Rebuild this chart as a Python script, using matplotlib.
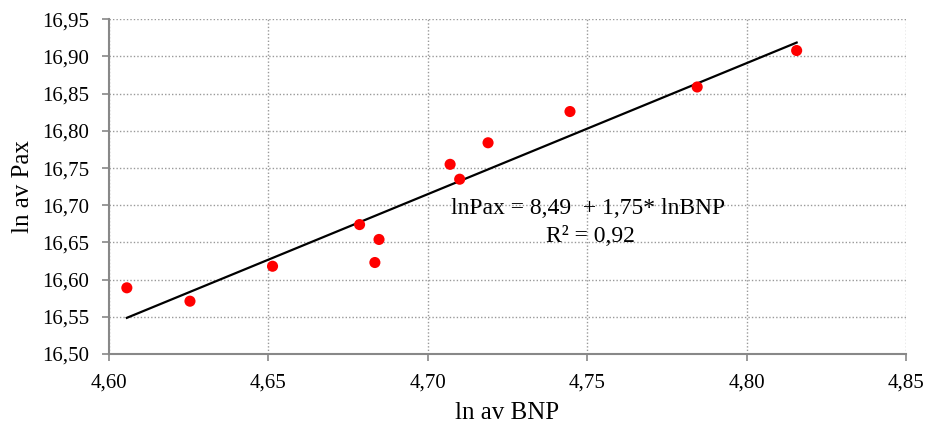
import numpy as np
import matplotlib
matplotlib.use("Agg")
import matplotlib.pyplot as plt
from matplotlib.ticker import FuncFormatter, MultipleLocator

ln_bnp = [4.6056, 4.6254, 4.6513, 4.6786, 4.6847, 4.6834, 4.7070, 4.7100, 4.7189, 4.7446, 4.7845, 4.8157]
ln_pax = [16.589, 16.571, 16.618, 16.674, 16.654, 16.623, 16.755, 16.735, 16.784, 16.826, 16.859, 16.908]
eq_text = "lnPax = 8,49  + 1,75* lnBNP"
r2_text = "R² = 0,92"

plt.rcParams['font.family'] = ['Liberation Serif', 'DejaVu Serif']

fig = plt.figure(figsize=(9.26, 4.26), dpi=100)
ax = fig.add_axes([0.1177, 0.169, 0.8607, 0.7857])

x = np.array(ln_bnp)
y = np.array(ln_pax)
b1, b0 = np.polyfit(x, y, 1)
xl = np.array([x.min(), x.max()])
ax.plot(xl, b0 + b1 * xl, color='black', lw=1.6, zorder=3)
ax.scatter(x, y, s=64, color='#ff0000', edgecolors='none', zorder=4)

ax.set_xlim(4.60, 4.85)
ax.set_ylim(16.50, 16.95)
ax.xaxis.set_major_locator(MultipleLocator(0.05))
ax.yaxis.set_major_locator(MultipleLocator(0.05))
fmt = FuncFormatter(lambda v, p: f"{v:.2f}".replace('.', ','))
ax.xaxis.set_major_formatter(fmt)
ax.yaxis.set_major_formatter(fmt)

ax.grid(True, color='#999999', linestyle=(0, (1, 1.5)), linewidth=1.0)
ax.set_axisbelow(True)
for s in ['top', 'right']:
    ax.spines[s].set_visible(False)
for s in ['left', 'bottom']:
    ax.spines[s].set_color('#888888')
    ax.spines[s].set_linewidth(1.5)
ax.tick_params(axis='both', colors='#888888', length=5, width=1.2, labelcolor='black', labelsize=15)
ax.tick_params(axis='x', pad=9)
ax.tick_params(axis='y', pad=9)

ax.set_xlabel("ln av BNP", fontsize=18, labelpad=7)
ax.set_ylabel("ln av Pax", fontsize=18, labelpad=6)

ax.text(588, 426 - 209, eq_text, transform=None, fontsize=17, ha='center', va='center')
ax.text(590, 426 - 237, r2_text, transform=None, fontsize=17, ha='center', va='center')

fig.savefig("out.png", dpi=100)
